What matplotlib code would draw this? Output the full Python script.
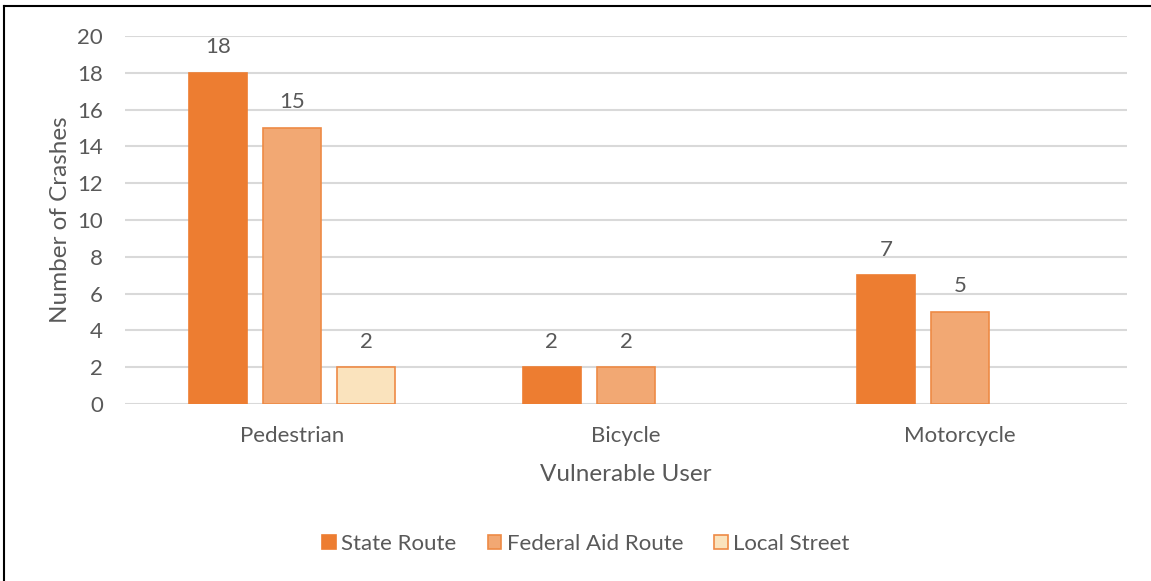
import numpy as np
import matplotlib.pyplot as plt
from matplotlib.lines import Line2D

plt.rcParams['font.family'] = ['Lato', 'DejaVu Sans']

users = ['Pedestrian', 'Bicycle', 'Motorcycle']
series = ['State Route', 'Federal Aid Route', 'Local Street']
state_route = [18, 2, 7]
federal_aid = [15, 2, 5]
local_street = [2, None, None]

fills = ['#ED7D31', '#F2A873', '#FAE3BD']
edges = ['#ED7D31', '#EE8A45', '#EE8A45']
text_gray = '#595959'

fig = plt.figure(figsize=(11.51, 5.81), dpi=100)
ax = fig.add_axes([125 / 1151, 1 - 404 / 581, 1002 / 1151, 368 / 581])

x = np.arange(len(users))
pitch = 0.222
width = 0.174
for k, (name, vals) in enumerate(zip(series, [state_route, federal_aid, local_street])):
    xs = [xi + (k - 1) * pitch for xi, v in zip(x, vals) if v is not None]
    vs = [v for v in vals if v is not None]
    bars = ax.bar(xs, vs, width, color=fills[k], edgecolor=edges[k],
                  linewidth=1.2, label=name, zorder=3)
    for b, v in zip(bars, vs):
        ax.text(b.get_x() + b.get_width() / 2, v + 0.85, str(v),
                ha='center', va='bottom', fontsize=16, color=text_gray)

ax.set_xlim(-0.5, 2.5)
ax.set_ylim(0, 20)
ax.set_yticks(range(0, 21, 2))
ax.set_xticks(x)
ax.set_xticklabels(users)
ax.tick_params(axis='both', length=0, labelsize=16, labelcolor=text_gray)
ax.tick_params(axis='x', pad=16)
ax.tick_params(axis='y', pad=16)
ax.grid(axis='y', color='#D9D9D9', linewidth=1.5, zorder=0)
for s in ax.spines.values():
    s.set_visible(False)

ax.set_xlabel('Vulnerable User', fontsize=17.5, color=text_gray, labelpad=13)
ax.set_ylabel('Number of Crashes', fontsize=17.5, color=text_gray, labelpad=4)

fig.legend(loc='center', bbox_to_anchor=(586 / 1151, 1 - 544 / 581), ncol=3,
           frameon=False, fontsize=16, labelcolor=text_gray,
           handlelength=0.6, handleheight=0.6, handletextpad=0.25,
           columnspacing=1.4)

# frame edges on top and left
fig.add_artist(Line2D([4 / 1151, 1], [1 - 6 / 581, 1 - 6 / 581], color='black', linewidth=1.5))
fig.add_artist(Line2D([4 / 1151, 4 / 1151], [0, 1 - 6 / 581], color='black', linewidth=1.5))

fig.savefig('out.png', dpi=100)
